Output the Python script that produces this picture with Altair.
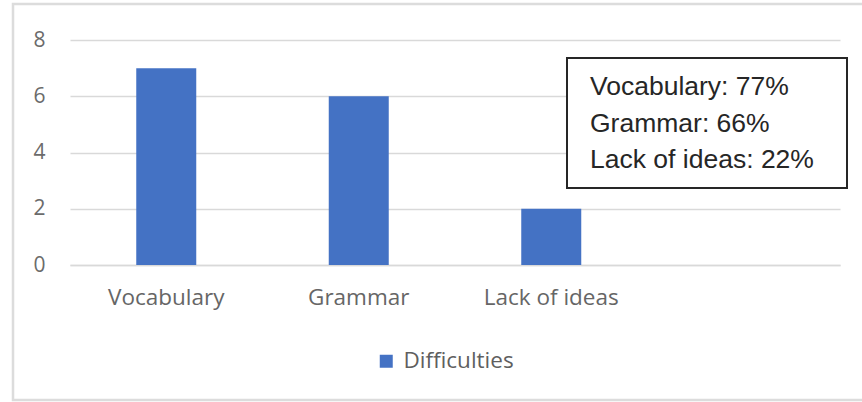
import altair as alt
import pandas as pd

categories = ["Vocabulary", "Grammar", "Lack of ideas"]
counts = [7, 6, 2]
percents = [77, 66, 22]
series_name = "Difficulties"
x_domain = categories + [""]
y_ticks = [0, 2, 4, 6, 8]

df = pd.DataFrame({"category": categories, "count": counts, "series": [series_name] * len(categories)})
note_lines = [f"{c}: {p}%" for c, p in zip(categories, percents)]

W, H = 770, 225

bars = alt.Chart(df).mark_bar(size=60).encode(
    x=alt.X("category:N", sort=x_domain,
            scale=alt.Scale(domain=x_domain, paddingInner=0, paddingOuter=0),
            axis=alt.Axis(title=None, labelAngle=0, ticks=False, tickSize=0, domain=True,
                          domainColor="#d9d9d9", domainWidth=1.5,
                          labelFont="Open Sans", labelFontSize=22.5, labelColor="#666666",
                          labelPadding=21, grid=False)),
    y=alt.Y("count:Q", scale=alt.Scale(domain=[0, 8], nice=False),
            axis=alt.Axis(title=None, values=y_ticks, ticks=False, tickSize=0, domain=False,
                          gridColor="#d9d9d9", gridWidth=1.5,
                          labelFont="Open Sans", labelFontSize=21, labelColor="#6b6b6b",
                          labelPadding=25)),
    color=alt.Color("series:N", scale=alt.Scale(domain=[series_name], range=["#4472C4"]),
                    legend=alt.Legend(title=None, orient="none", legendX=305, legendY=310,
                                      padding=0, symbolType="square", symbolSize=169,
                                      symbolStrokeWidth=0, labelFont="Open Sans",
                                      labelFontSize=22.5, labelColor="#5f5f5f", labelOffset=6)),
)

one = pd.DataFrame({"k": [0]})

box = alt.Chart(one).mark_rect(fill="white", stroke="#262626", strokeWidth=2).encode(
    x=alt.value(497), x2=alt.value(777), y=alt.value(18), y2=alt.value(148)
)

note = alt.Chart(one).mark_text(
    align="left", baseline="alphabetic", font="Liberation Sans", fontSize=26.5,
    lineHeight=36.5, color="#262626"
).encode(x=alt.value(520), y=alt.value(55), text=alt.value(note_lines))

frame = alt.Chart(one).mark_rect(fillOpacity=0, stroke="#dcdcdc", strokeWidth=2.5).encode(
    x=alt.value(-57), x2=alt.value(794), y=alt.value(-36), y2=alt.value(360)
)

chart = alt.layer(frame, bars, box, note).properties(
    width=W, height=H,
    autosize=alt.AutoSizeParams(type="none"),
    padding={"left": 70, "top": 40, "right": 22, "bottom": 137},
    background="white",
).configure_view(stroke=None)

chart.save("out.html", embed_options={"renderer": "svg", "actions": False})
